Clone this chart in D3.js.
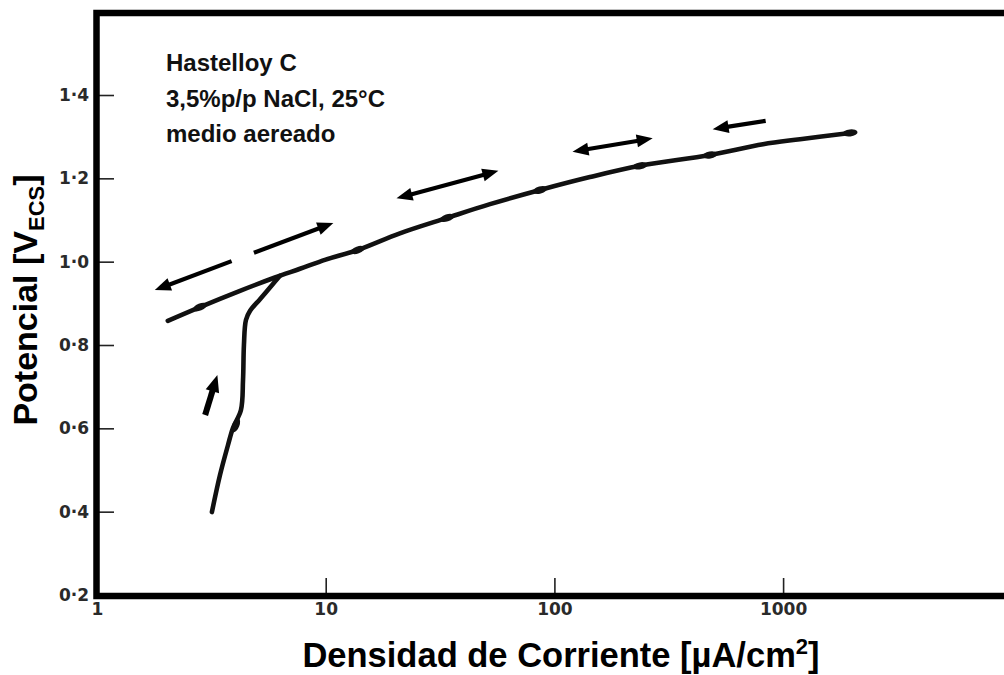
<!DOCTYPE html>
<html><head><meta charset="utf-8">
<script src="https://cdn.jsdelivr.net/npm/d3@7"></script>
<style>html,body{margin:0;padding:0;background:#fff;} svg{display:block;}</style>
</head><body><svg id="chart" width="1004" height="675"></svg>
<script>
// Polarisation curve of Hastelloy C in aerated 3.5 % NaCl at 25 °C

const potentialTicks = [0.4, 0.6, 0.8, 1.0, 1.2, 1.4, 0.2];
const potentialTickLabels = ["0·4", "0·6", "0·8", "1·0", "1·2", "1·4", "0·2"];
const currentTicks = [1, 10, 100, 1000];
const currentTickLabels = ["1", "10", "100", "1000"];

// passive rise from the starting potential up to the main branch (µA/cm², V)
const riseCurrent = [3.18, 3.45, 3.74, 3.93, 4.26, 4.35, 4.39, 4.48, 4.67, 5.16, 5.83, 6.31];
const risePotential = [0.399, 0.488, 0.560, 0.601, 0.644, 0.716, 0.800, 0.860, 0.882, 0.910, 0.944, 0.966];

// main branch: scanned up to the turning point and back down again
const mainCurrent = [2.04, 2.82, 4.22, 6.0, 7.72, 10.0, 13.8, 21.1, 33.9, 52.3, 86.5, 143, 237, 479, 817, 1186, 1963];
const mainPotential = [0.858, 0.891, 0.930, 0.962, 0.983, 1.005, 1.028, 1.068, 1.105, 1.138, 1.172, 1.203, 1.230, 1.256, 1.282, 1.294, 1.309];

// thickened marks along the trace
const markCurrent = [2.82, 13.8, 33.9, 86.5, 237, 479, 1963, 4.05];
const markPotential = [0.891, 1.028, 1.105, 1.172, 1.230, 1.256, 1.309, 0.608];

// scan-direction arrows: [current, potential] of both ends
const arrowFromCurrent = [1.79, 20.4, 120, 839, 2.97];
const arrowFromPotential = [0.932, 1.152, 1.264, 1.338, 0.632];
const arrowToCurrent = [10.8, 56.9, 269, 492, 3.36];
const arrowToPotential = [1.093, 1.218, 1.296, 1.318, 0.728];
const arrowBothEnds = [true, true, true, false, false];

const noteLines = ["Hastelloy C", "3,5%p/p NaCl, 25°C", "medio aereado"];

const svg = d3.select("#chart");

const x = d3.scaleLog().domain([1, 10000]).range([97, 1011.8]);
const y = d3.scaleLinear().domain([0.2, 1.6]).range([595, 11.67]);

const ink = "#111";

// tick marks pointing into the plot, labels outside
const yAxis = d3.axisLeft(y)
  .tickValues(potentialTicks)
  .tickSize(-17)
  .tickPadding(8)
  .tickFormat((d, i) => potentialTickLabels[i]);
const gy = svg.append("g").attr("transform", `translate(${x(1)},0)`).call(yAxis);
gy.select(".domain").remove();
gy.selectAll(".tick line").attr("stroke", "#222").attr("stroke-width", 1.6)
  .filter(d => d === 0.2).remove();
gy.selectAll(".tick text")
  .attr("font-family", "DejaVu Sans, sans-serif").attr("font-weight", "bold")
  .attr("font-size", 17).attr("fill", "#2a2a2a");

const xAxis = d3.axisBottom(x)
  .tickValues(currentTicks)
  .tickSize(-17)
  .tickPadding(8)
  .tickFormat((d, i) => currentTickLabels[i]);
const gx = svg.append("g").attr("transform", `translate(0,${y(0.2)})`).call(xAxis);
gx.select(".domain").remove();
gx.selectAll(".tick line").attr("stroke", "#222").attr("stroke-width", 1.6)
  .filter(d => d === 1).remove();
gx.selectAll(".tick text")
  .attr("font-family", "DejaVu Sans, sans-serif").attr("font-weight", "bold")
  .attr("font-size", 17).attr("fill", "#2a2a2a");

// heavy frame: top, left and bottom edges
const fx0 = x(1) - 0.5, fy0 = y(1.6) + 1.3, fy1 = y(0.2) + 1;
svg.append("path")
  .attr("d", `M1010,${fy0} H${fx0} V${fy1} H1010`)
  .attr("fill", "none").attr("stroke", "#000").attr("stroke-width", 6.5)
  .attr("stroke-linejoin", "miter");

// curves
const line = d3.line().x(d => x(d[0])).y(d => y(d[1])).curve(d3.curveCatmullRom.alpha(0.5));
const risePts = riseCurrent.map((c, i) => [c, risePotential[i]]);
const mainPts = mainCurrent.map((c, i) => [c, mainPotential[i]]);

[mainPts, risePts].forEach(pts => {
  svg.append("path").attr("d", line(pts))
    .attr("fill", "none").attr("stroke", ink).attr("stroke-width", 4.6)
    .attr("stroke-linecap", "round").attr("stroke-linejoin", "round");
});

// thickened marks, oriented along the local direction of the trace
function localAngle(c, v) {
  const pts = v < 0.85 && c < 6 ? risePts : mainPts;
  let best = 0, bd = Infinity;
  pts.forEach((p, i) => {
    const d = Math.hypot(x(p[0]) - x(c), y(p[1]) - y(v));
    if (d < bd) { bd = d; best = i; }
  });
  const a = pts[Math.max(0, best - 1)], b = pts[Math.min(pts.length - 1, best + 1)];
  return Math.atan2(y(b[1]) - y(a[1]), x(b[0]) - x(a[0])) * 180 / Math.PI;
}
markCurrent.forEach((c, i) => {
  const v = markPotential[i];
  svg.append("ellipse")
    .attr("cx", 0).attr("cy", 0).attr("rx", 7.5).attr("ry", 3.5)
    .attr("transform", `translate(${x(c)},${y(v)}) rotate(${localAngle(c, v)})`)
    .attr("fill", ink);
});

// arrows
function head(px, py, ang, len, half) {
  const ca = Math.cos(ang), sa = Math.sin(ang);
  const bx = px - ca * len, by = py - sa * len;
  return `M${px},${py} L${bx - sa * half},${by + ca * half} L${bx + sa * half},${by - ca * half} Z`;
}
arrowFromCurrent.forEach((c, i) => {
  const x0 = x(c), y0 = y(arrowFromPotential[i]);
  const x1 = x(arrowToCurrent[i]), y1 = y(arrowToPotential[i]);
  const ang = Math.atan2(y1 - y0, x1 - x0);
  const bold = i === 4;
  const len = bold ? 17 : 16, half = bold ? 7 : 6.5, sw = bold ? 6 : 4.2;
  const g = svg.append("g");
  const sx = arrowBothEnds[i] ? x0 + Math.cos(ang) * (len - 3) : x0;
  const sy = arrowBothEnds[i] ? y0 + Math.sin(ang) * (len - 3) : y0;
  const ex = x1 - Math.cos(ang) * (len - 3), ey = y1 - Math.sin(ang) * (len - 3);
  if (i === 0) {
    // long arrow broken in the middle
    const t0 = 0.43, t1 = 0.555;
    g.append("line").attr("x1", sx).attr("y1", sy)
      .attr("x2", x0 + (x1 - x0) * t0).attr("y2", y0 + (y1 - y0) * t0);
    g.append("line").attr("x1", x0 + (x1 - x0) * t1).attr("y1", y0 + (y1 - y0) * t1)
      .attr("x2", ex).attr("y2", ey);
  } else {
    g.append("line").attr("x1", sx).attr("y1", sy).attr("x2", ex).attr("y2", ey);
  }
  g.selectAll("line").attr("stroke", "#000").attr("stroke-width", sw);
  g.append("path").attr("d", head(x1, y1, ang, len, half)).attr("fill", "#000");
  if (arrowBothEnds[i]) g.append("path").attr("d", head(x0, y0, ang + Math.PI, len, half)).attr("fill", "#000");
});

// note
const note = svg.append("text")
  .attr("font-family", "Liberation Sans, Arial, sans-serif").attr("font-weight", "bold")
  .attr("font-size", 24).attr("fill", ink);
noteLines.forEach((t, i) => {
  note.append("tspan").attr("x", 166).attr("y", 71 + i * 35.5).text(t);
});

// axis titles
const xt = svg.append("text")
  .attr("x", 561).attr("y", 667).attr("text-anchor", "middle")
  .attr("font-family", "Liberation Sans, Arial, sans-serif").attr("font-weight", "bold")
  .attr("font-size", 34.5).attr("fill", "#000");
xt.append("tspan").text("Densidad de Corriente [µA/cm");
xt.append("tspan").attr("font-size", 22).attr("dy", -13).text("2");
xt.append("tspan").attr("dy", 13).text("]");

const yt = svg.append("text")
  .attr("transform", "translate(37,300) rotate(-90)").attr("text-anchor", "middle")
  .attr("font-family", "Liberation Sans, Arial, sans-serif").attr("font-weight", "bold")
  .attr("font-size", 34).attr("fill", "#000");
yt.append("tspan").text("Potencial [V");
yt.append("tspan").attr("font-size", 22).attr("dy", 7).text("ECS");
yt.append("tspan").attr("dy", -7).text("]");
</script></body></html>
